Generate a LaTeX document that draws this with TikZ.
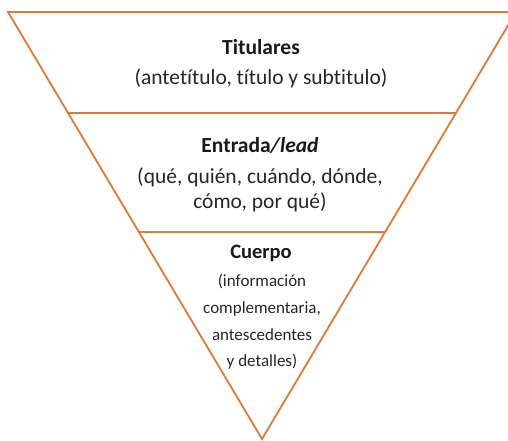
\documentclass[tikz,border=0pt]{standalone}
\usepackage{fontspec}
\setmainfont[Ligatures=NoCommon]{Carlito}
\usepackage{xcolor}
\usepackage{tikz}
\usetikzlibrary{positioning,calc}
\definecolor{funnelorange}{HTML}{E0783A}
\tikzset{
  edge/.style     = {draw=funnelorange, line width=1.8pt, line join=miter},
  layerhdr/.style = {font=\fontsize{21.5}{24}\selectfont\bfseries, inner sep=0pt, text=black!90},
  layertxt/.style = {font=\fontsize{21.5}{25}\selectfont, inner sep=0pt, align=center, text=black!85},
  smalltxt/.style = {font=\fontsize{17}{26.7}\selectfont, inner sep=0pt, align=center, text=black!85},
}
\begin{document}
\begin{tikzpicture}[x=1pt,y=-1pt]
  \useasboundingbox (0,0) rectangle (508,440);
  \clip (0,0) rectangle (508,440);
  % triangle corners
  \coordinate (tl) at (8,12);
  \coordinate (tr) at (516,12);
  \coordinate (apex) at (262,439);
  \draw[edge] (tl) -- (tr) -- (apex) -- cycle;
  % layer boundaries
  \draw[edge] ($(tl)!0.2365!(apex)$) -- ($(tr)!0.2365!(apex)$);
  \draw[edge] ($(tl)!0.515!(apex)$) -- ($(tr)!0.515!(apex)$);

  \node[layerhdr] (titulares) at (261,47) {Titulares};
  \node[layertxt] (titdesc) at (261,78) {(antetítulo, título y subtitulo)};

  \node[layerhdr] (entrada) at (260,145) {Entrada\textit{/lead}};
  \node[layertxt] (entdesc) at (260,190) {(qué, quién, cuándo, dónde,\\cómo, por qué)};

  \node[layerhdr, font=\fontsize{20.5}{24}\selectfont\bfseries] (cuerpo) at (261,253) {Cuerpo};
  \node[smalltxt] (cuerdesc) at (262,322) {(información\\complementaria,\\antescedentes\\y detalles)};
\end{tikzpicture}
\end{document}
